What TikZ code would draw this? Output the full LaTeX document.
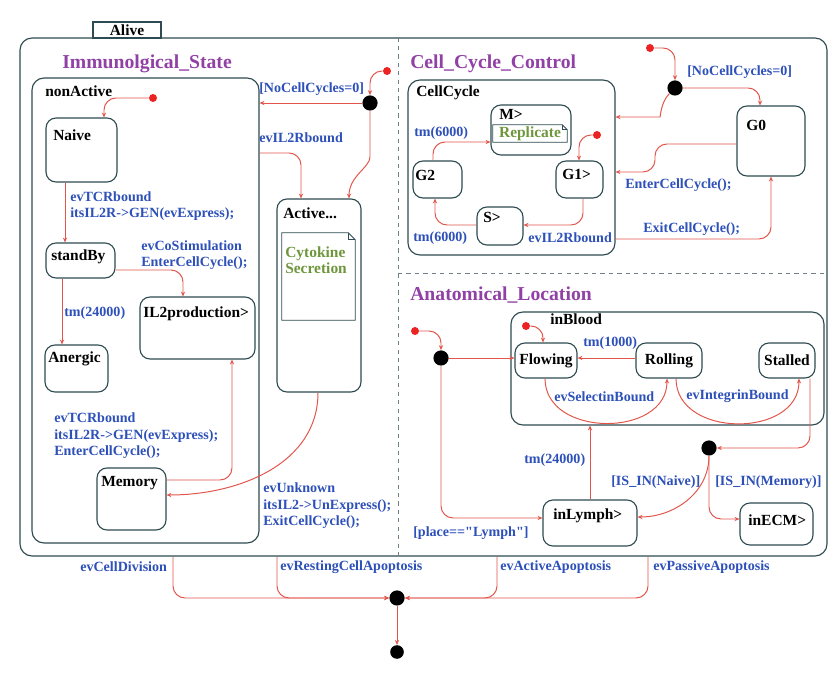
\documentclass[tikz,border=0pt]{standalone}
\usepackage{fontspec}
\setmainfont{Liberation Serif}
\usetikzlibrary{positioning,fit,calc,arrows.meta}

\definecolor{bord}{RGB}{45,75,80}
\definecolor{trred}{RGB}{225,85,75}
\definecolor{evblue}{RGB}{45,80,185}
\definecolor{regpurple}{RGB}{145,65,165}
\definecolor{notegreen}{RGB}{110,150,60}
\definecolor{dotred}{RGB}{235,35,35}

\tikzset{
  state/.style = {draw=bord, line width=0.8pt, rounded corners=2.5mm, inner sep=0pt},
  region/.style = {draw=bord, line width=0.8pt, rounded corners=3mm, inner sep=0pt},
  sttext/.style = {font=\bfseries\fontsize{11}{13}\selectfont, inner sep=0pt, anchor=west},
  evlbl/.style = {font=\bfseries\fontsize{10}{11.8}\selectfont, text=evblue, inner sep=0pt, anchor=west, align=left},
  regtitle/.style = {font=\bfseries\fontsize{14}{16}\selectfont, text=regpurple, inner sep=0pt, anchor=west},
  notetext/.style = {font=\bfseries\fontsize{11}{11.5}\selectfont, text=notegreen, inner sep=0pt, align=left, anchor=west},
  tr/.style = {draw=trred, line width=0.7pt, rounded corners=3mm, -{Stealth[length=3.5pt,width=3pt]}},
  initdot/.style = {circle, fill=dotred, inner sep=0pt, minimum size=2mm},
  junc/.style = {circle, fill=black, inner sep=0pt, minimum size=3.8mm},
  sep/.style = {draw=bord!70, line width=0.7pt, dashed},
}

% note with a folded corner
\newcommand{\dogear}[2]{%
  \draw[bord, line width=0.6pt] (#1.north west) -- ([xshift=-#2]#1.north east) -- ([yshift=-#2]#1.north east) -- (#1.south east) -- (#1.south west) -- cycle;
  \draw[bord, line width=0.6pt] ([xshift=-#2]#1.north east) |- ([yshift=-#2]#1.north east);}

\begin{document}
\begin{tikzpicture}[x=0.25mm, y=-0.25mm]
\useasboundingbox (0,0) rectangle (829,684);

% Alive
\node[region, fit={(20,38)(827,556)}] (alive) {};
\node[draw=bord, line width=0.8pt, inner sep=0pt, fit={(93,22)(161,38)}] (alivetab) {};
\node[sttext, anchor=center] (alivelbl) at (alivetab) {Alive};
\draw[sep] (alive.north -| 398,0) -- (alive.south -| 398,0);
\draw[sep] (398,273) -- (alive.east |- 0,273);

\node[regtitle] (immtitle) at (62,64) {Immunolgical\_State};
\node[regtitle] (cctitle) at (410,64) {Cell\_Cycle\_Control};
\node[regtitle] (altitle) at (410,295) {Anatomical\_Location};

% Immunolgical_State
\node[region, fit={(32,78)(259,543)}] (nonactive) {};
\node[sttext] (nonactivelbl) at (45,91) {nonActive};
\node[state, fit={(46,118)(117,182)}] (naive) {};
\node[sttext] (naivelbl) at (53,135) {Naive};
\node[state, fit={(46,243)(115,278)}] (standby) {};
\node[sttext] (standbylbl) at (51,257) {standBy};
\node[state, fit={(45,345)(108,392)}] (anergic) {};
\node[sttext] (anergiclbl) at (48,359) {Anergic};
\node[state, fit={(140,297)(255,359)}] (il2) {};
\node[sttext] (il2lbl) at (143,314) {IL2production>};
\node[state, fit={(97,468)(166,530)}] (memory) {};
\node[sttext] (memorylbl) at (101,483) {Memory};
\node[state, fit={(277,199)(361,392)}] (active) {};
\node[sttext] (activelbl) at (283,213) {Active...};
\node[inner sep=0pt, fit={(282,233)(355,320)}] (cyto) {};
\dogear{cyto}{1.75mm}
\node[notetext] (cytolbl) at (285,260) {Cytokine\\Secretion};

\node[initdot] (iNA) at (153,98) {};
\node[initdot] (iImm) at (387,71) {};
\node[junc] (j1) at (370,103) {};

\draw[tr] (iNA) -| (naive.north -| 104,0);
\draw[tr] (naive.south -| 65,0) -- (standby.north -| 65,0);
\draw[tr] (standby.east |- 0,270) -| (il2.north -| 183,0);
\draw[tr] (standby.south -| 62,0) -- (anergic.north -| 62,0);
\draw[tr] (memory.east |- 0,480) -| (il2.south -| 232,0);
\draw[tr] (active.south -| 318,0) to[out=-90,in=0] (memory.east |- 0,495);
\draw[tr] (iImm) -| (j1);
\draw[tr] (j1) -- (nonactive.east |- j1);
\draw[tr] (j1) -- (370,145) to[out=-90,in=90] (active.north -| 349,0);
\draw[tr] (nonactive.east |- 0,153) -| (active.north -| 301,0);

\node[evlbl] (lNoCCa) at (259,89) {[NoCellCycles=0]};
\node[evlbl] (lIL2a) at (259,138) {evIL2Rbound};
\node[evlbl] (lTCRa) at (70,206) {evTCRbound\\itsIL2R->GEN(evExpress);};
\node[evlbl] (lCoStim) at (141,255) {evCoStimulation\\EnterCellCycle();};
\node[evlbl] (lTm24a) at (64,313) {tm(24000)};
\node[evlbl] (lTCRb) at (54,436) {evTCRbound\\itsIL2R->GEN(evExpress);\\EnterCellCycle();};
\node[evlbl] (lUnknown) at (263,506) {evUnknown\\itsIL2->UnExpress();\\ExitCellCycle();};

% Cell_Cycle_Control
\node[region, fit={(408,80)(615,255)}] (cellcycle) {};
\node[sttext] (cellcyclelbl) at (416,93) {CellCycle};
\node[state, fit={(491,105)(571,155)}] (mph) {};
\node[sttext] (mphlbl) at (499,114) {M>};
\node[inner sep=0pt, fit={(493,125)(567,142)}] (repl) {};
\dogear{repl}{1.25mm}
\node[notetext, anchor=center] (repllbl) at (repl) {Replicate};
\node[state, fit={(413,161)(462,198)}] (g2) {};
\node[sttext] (g2lbl) at (415,175) {G2};
\node[state, fit={(556,161)(603,198)}] (g1) {};
\node[sttext] (g1lbl) at (562,174) {G1>};
\node[state, fit={(477,207)(523,245)}] (sph) {};
\node[sttext] (sphlbl) at (483,217) {S>};
\node[state, fit={(737,106)(805,176)}] (g0) {};
\node[sttext] (g0lbl) at (746,125) {G0};

\node[initdot] (iCC) at (597,135) {};
\node[initdot] (iCCC) at (650,48) {};
\node[junc] (j2) at (675,88) {};

\draw[tr] (iCC) -| (g1.north -| 579,0);
\draw[tr] (g1.south -| 583,0) |- (sph.east |- 0,225);
\draw[tr] (sph.west |- 0,225) -| (g2.south -| 435,0);
\draw[tr] (g2.north -| 433,0) |- (mph.west |- 0,142);
\draw[tr] (iCCC) -| (j2);
\draw[tr] (j2) to[out=-135,in=0] (648,117) -- (cellcycle.east |- 0,117);
\draw[tr] (j2) -| (g0.north -| 760,0);
\draw[tr] (g0.west |- 0,144) -| (655,172) -- (cellcycle.east |- 0,172);
\draw[tr] (cellcycle.east |- 0,239) -| (g0.south -| 771,0);

\node[evlbl] (lTm6a) at (414,133) {tm(6000)};
\node[evlbl] (lTm6b) at (413,238) {tm(6000)};
\node[evlbl] (lIL2b) at (528,238) {evIL2Rbound};
\node[evlbl] (lNoCCb) at (687,72) {[NoCellCycles=0]};
\node[evlbl] (lEnter) at (625,185) {EnterCellCycle();};
\node[evlbl] (lExit) at (643,229) {ExitCellCycle();};

% Anatomical_Location
\node[region, fit={(511,312)(824,425)}] (inblood) {};
\node[sttext] (inbloodlbl) at (550,319) {inBlood};
\node[state, fit={(515,343)(577,378)}] (flowing) {};
\node[sttext, anchor=center] (flowinglbl) at (flowing) {Flowing};
\node[state, fit={(636,343)(702,378)}] (rolling) {};
\node[sttext, anchor=center] (rollinglbl) at (rolling) {Rolling};
\node[state, fit={(759,343)(815,378)}] (stalled) {};
\node[sttext, anchor=center] (stalledlbl) at (stalled) {Stalled};
\node[state, fit={(543,500)(637,546)}] (inlymph) {};
\node[sttext] (inlymphlbl) at (553,516) {inLymph>};
\node[state, fit={(740,503)(813,545)}] (inecm) {};
\node[sttext] (inecmlbl) at (748,520) {inECM>};

\node[initdot] (iAL) at (415,331) {};
\node[junc] (j3) at (441,358) {};
\node[initdot] (iBl) at (526,326) {};
\node[junc] (j4) at (709,448) {};

\draw[tr] (iAL) -| (j3);
\draw[tr] (j3) -- (flowing.west |- j3);
\draw[tr] (j3) |- (inlymph.west |- 0,518);
\draw[tr] (iBl) -| (flowing.north -| 543,0);
\draw[tr] (rolling.west |- 0,358) -- (flowing.east |- 0,358);
\draw[tr] (flowing.south -| 545,0) to[out=-90,in=-90,looseness=1.25] (rolling.south -| 667,0);
\draw[tr] (rolling.south -| 676,0) to[out=-90,in=-90,looseness=1.25] (stalled.south -| 799,0);
\draw[tr] (stalled.south -| 810,0) |- (j4);
\draw[tr] (j4) to[out=-90,in=0] (inlymph.east |- 0,517);
\draw[tr] (j4) |- (inecm.west |- 0,519);
\draw[tr] (inlymph.north -| 590,0) -- (inblood.south -| 590,0);

\node[evlbl] (lTm1) at (583,343) {tm(1000)};
\node[evlbl] (lSel) at (554,397) {evSelectinBound};
\node[evlbl] (lInt) at (686,396) {evIntegrinBound};
\node[evlbl] (lTm24b) at (524,460) {tm(24000)};
\node[evlbl] (lIsNaive) at (611,482) {[IS\_IN(Naive)]};
\node[evlbl] (lIsMem) at (715,482) {[IS\_IN(Memory)]};
\node[evlbl] (lPlace) at (413,533) {[place==\textquotedbl Lymph\textquotedbl]};

% leaving Alive
\node[junc] (j5) at (397,598) {};
\node[junc, minimum size=3.4mm] (fin) at (397,652) {};
\draw[tr] (alive.south -| 173,0) |- (j5);
\draw[tr] (alive.south -| 277,0) |- (j5);
\draw[tr] (alive.south -| 497,0) |- (j5);
\draw[tr] (alive.south -| 648,0) |- (j5);
\draw[tr] (j5) -- (fin);

\node[evlbl] (lDiv) at (80,567) {evCellDivision};
\node[evlbl] (lRest) at (280,567) {evRestingCellApoptosis};
\node[evlbl] (lAct) at (500,567) {evActiveApoptosis};
\node[evlbl] (lPass) at (653,567) {evPassiveApoptosis};
\end{tikzpicture}
\end{document}
